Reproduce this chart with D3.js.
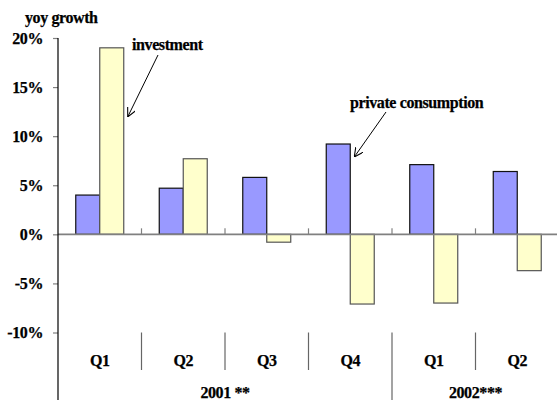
<!DOCTYPE html>
<html>
<head>
<meta charset="utf-8">
<script src="https://cdn.jsdelivr.net/npm/d3@7"></script>
<style>
  body { margin: 0; background: #fff; }
  svg { display: block; }
  text {
    font-family: "Liberation Serif", "Times New Roman", serif; font-weight: bold;
    fill: #000; stroke: #000; stroke-width: 0.25px;
    font-size: 16px; letter-spacing: -0.4px;
  }
</style>
</head>
<body>
<svg id="chart" width="557" height="400"></svg>
<script>
// Quarterly year-on-year growth, in percent
const quarters = ["Q1", "Q2", "Q3", "Q4", "Q1", "Q2"];
const years = [
  { label: "2001 **", from: 0, to: 4 },
  { label: "2002***", from: 4, to: 6 }
];
const consumption = [4.0, 4.7, 5.8, 9.2, 7.1, 6.4];
const investment = [19.0, 7.7, -0.8, -7.1, -7.0, -3.7];
const yTicks = [-10, -5, 0, 5, 10, 15, 20];

const series = [
  { key: "consumption", values: consumption, fill: "#9999ff", stroke: "#111" },
  { key: "investment", values: investment, fill: "#ffffcc", stroke: "#555" }
];

const svg = d3.select("#chart");
const plotLeft = 58, plotRight = 559, plotTop = 38, plotBottom = 332.5;

const idx = quarters.map((q, i) => i);
const x = d3.scaleBand().domain(idx).range([plotLeft, plotRight]).padding(0);
const xs = d3.scaleBand().domain(series.map(s => s.key))
  .range([0, x.bandwidth()]).paddingInner(0).paddingOuter(0.74);
const y = d3.scaleLinear().domain([-10, 20]).range([plotBottom, plotTop]);

// Bars
series.forEach(s => {
  svg.append("g").selectAll("rect").data(s.values).join("rect")
    .attr("x", (d, i) => x(i) + xs(s.key))
    .attr("y", d => y(Math.max(0, d)))
    .attr("width", xs.bandwidth())
    .attr("height", d => Math.abs(y(d) - y(0)))
    .attr("fill", s.fill)
    .attr("stroke", s.stroke)
    .attr("stroke-width", 1.2);
});

// Zero line with small upward ticks at quarter boundaries
const zero = svg.append("g").attr("stroke", "#808080");
zero.append("line")
  .attr("x1", plotLeft).attr("x2", plotRight)
  .attr("y1", y(0)).attr("y2", y(0))
  .attr("stroke-width", 1.6);
zero.selectAll("line.tk").data(idx.slice(1)).join("line")
  .attr("class", "tk")
  .attr("x1", i => x(i)).attr("x2", i => x(i))
  .attr("y1", y(0)).attr("y2", y(0) - 6)
  .attr("stroke-width", 1.2);

// Value axis
const yAxis = d3.axisLeft(y).tickValues(yTicks).tickSize(5).tickPadding(10)
  .tickFormat(d => d + "%");
const ya = svg.append("g").attr("transform", `translate(${plotLeft},0)`).call(yAxis);
ya.select(".domain").remove();
ya.attr("font-size", null).attr("font-family", null);
ya.selectAll(".tick line").attr("stroke", "#808080").attr("stroke-width", 1.2);
ya.selectAll(".tick text").attr("fill", "#000");
svg.append("line")
  .attr("x1", plotLeft).attr("x2", plotLeft).attr("y1", plotTop).attr("y2", 400)
  .attr("stroke", "#000").attr("stroke-width", 1.2);

// Category axis: quarter separators, year separators and labels
const catTop = y(-10), qBottom = 370;
const yearBreaks = years.map(d => d.from).filter(i => i > 0);
svg.append("g").selectAll("line").data(idx.slice(1)).join("line")
  .attr("x1", i => x(i)).attr("x2", i => x(i))
  .attr("y1", catTop)
  .attr("y2", i => yearBreaks.includes(i) ? 400 : qBottom)
  .attr("stroke", "#666").attr("stroke-width", 1.2);

svg.append("g").selectAll("text").data(quarters).join("text")
  .attr("x", (d, i) => x(i) + x.bandwidth() / 2)
  .attr("y", 366)
  .attr("text-anchor", "middle")
  .text(d => d);

svg.append("g").selectAll("text").data(years).join("text")
  .attr("x", d => (x(d.from) + (d.to < quarters.length ? x(d.to) : plotRight)) / 2)
  .attr("y", 398)
  .attr("text-anchor", "middle")
  .text(d => d.label);

// Axis title
svg.append("text").attr("x", 25).attr("y", 23)
  .text("yoy growth");

// Annotations with open arrowheads
svg.append("defs").append("marker")
  .attr("id", "arrow").attr("viewBox", "0 0 10 10")
  .attr("refX", 10).attr("refY", 5)
  .attr("markerWidth", 9).attr("markerHeight", 9)
  .attr("markerUnits", "userSpaceOnUse")
  .attr("orient", "auto")
  .append("path").attr("d", "M0,0 L10,5 L0,10")
  .attr("fill", "none").attr("stroke", "#000").attr("stroke-width", 1.2);

function annotate(label, tx, ty, qi, sKey, value, ax, ay) {
  svg.append("text").attr("x", tx).attr("y", ty)
    .text(label);
  const bx = x(qi) + xs(sKey) + xs.bandwidth() + 4;
  const by = y(value) + (sKey === "investment" ? 69 : 13);
  svg.append("line")
    .attr("x1", ax).attr("y1", ay).attr("x2", bx).attr("y2", by)
    .attr("stroke", "#000").attr("stroke-width", 1)
    .attr("marker-end", "url(#arrow)");
}
annotate("investment", 132, 50, 0, "investment", investment[0], 158, 55);
annotate("private consumption", 350, 108, 3, "consumption", consumption[3], 386, 112);
</script>
</body>
</html>
